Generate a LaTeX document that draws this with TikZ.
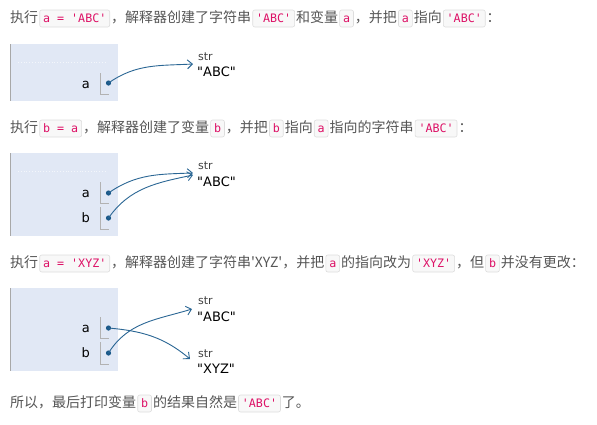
\documentclass[tikz,border=0pt]{standalone}
\usepackage{fontspec}
\usetikzlibrary{arrows.meta}
\newfontfamily\cjk{Noto Sans CJK SC}[Ligatures=TeXOff]
\newfontfamily\monof{DejaVu Sans Mono}[Ligatures=TeXOff]
\newfontfamily\dvs{DejaVu Sans}[Ligatures=TeXOff]
\definecolor{txtgray}{HTML}{555555}
\definecolor{codered}{HTML}{DD1166}
\definecolor{codebg}{HTML}{F8F8F8}
\definecolor{codeborder}{HTML}{DDDDDD}
\definecolor{framebg}{HTML}{E1E8F5}
\definecolor{frameedge}{HTML}{A8A8A8}
\definecolor{arrowblue}{HTML}{2A6694}
\definecolor{dotblue}{HTML}{1C5A8A}
\tikzset{
  codebox/.style={draw=codeborder, fill=codebg, rounded corners=2pt, line width=0.6pt,
    inner xsep=3.4pt, inner ysep=3pt, text height=9pt, text depth=2pt,
    text=codered, font=\monof\fontsize{11.67pt}{13pt}\selectfont},
  textline/.style={anchor=base west, inner sep=0pt, text=txtgray,
    font=\cjk\fontsize{14pt}{16pt}\selectfont},
  framebox/.style={fill=framebg, draw=none},
  frameleft/.style={draw=frameedge, line width=1pt},
  bracket/.style={draw=gray!60, line width=0.8pt},
  varlabel/.style={anchor=east, inner sep=0pt, font=\dvs\fontsize{13pt}{15pt}\selectfont, text=black},
  ptrdot/.style={circle, fill=dotblue, inner sep=0pt, minimum size=5.2pt},
  ptr/.style={draw=arrowblue, line width=0.9pt, -{Straight Barb[length=5pt,width=9pt,line width=0.9pt]}},
  typelabel/.style={anchor=west, inner sep=0pt, font=\dvs\fontsize{11pt}{13pt}\selectfont, text=black!75},
  vallabel/.style={anchor=west, inner sep=0pt, font=\dvs\fontsize{13pt}{15pt}\selectfont, text=black},
  dotrule/.style={draw=white!60!framebg, dotted, line width=0.8pt}
}
\newcommand\cd[1]{\hspace{1.2pt}\tikz[baseline=(cb.base)]\node(cb)[codebox]{#1};\hspace{1.2pt}}
\begin{document}
\begin{tikzpicture}[x=1pt,y=-1pt]
\useasboundingbox (0,0) rectangle (597,424);
% ---------- line 1
\node[textline] (t1) at (10,22) {执行\cd{a = 'ABC'}，解释器创建了字符串\cd{'ABC'}和变量\cd{a}，并把\cd{a}指向\cd{'ABC'}：};
% frame 1
\fill[framebox] (10,44) rectangle (118,101);
\draw[frameleft] (10,44) -- (10,101);
\draw[dotrule] (18,62) -- (105,62);
\node[varlabel] (a1) at (90,84.5) {a};
\draw[bracket] (100.5,73) -- (100.5,94.5) -- (109,94.5);
\node[ptrdot] (da1) at (108.5,83) {};
\node[typelabel] (s1) at (198,57) {str};
\node[vallabel] (v1) at (197,72) {"ABC"};
\coordinate (e1) at (193,64);
\draw[ptr] (da1.center) to[out=35,in=183] (e1);
% ---------- line 2
\node[textline] (t2) at (10,132) {执行\cd{b = a}，解释器创建了变量\cd{b}，并把\cd{b}指向\cd{a}指向的字符串\cd{'ABC'}：};
% frame 2
\fill[framebox] (10,153) rectangle (118,236);
\draw[frameleft] (10,153) -- (10,236);
\draw[dotrule] (18,171) -- (105,171);
\node[varlabel] (a2) at (90,193.5) {a};
\node[varlabel] (b2) at (90,217.5) {b};
\draw[bracket] (100.5,182) -- (100.5,203.5) -- (109,203.5);
\draw[bracket] (100.5,207) -- (100.5,229) -- (109,229);
\node[ptrdot] (da2) at (108.5,193) {};
\node[ptrdot] (db2) at (108.5,218) {};
\node[typelabel] (s2) at (198,166) {str};
\node[vallabel] (v2) at (197,182) {"ABC"};
\coordinate (e2a) at (193,173);
\coordinate (e2b) at (193,175);
\draw[ptr] (da2.center) to[out=35,in=182] (e2a);
\draw[ptr] (db2.center) to[out=55,in=192] (e2b);
% ---------- line 3
\node[textline] (t3) at (10,267) {执行\cd{a = 'XYZ'}，解释器创建了字符串'XYZ'，并把\cd{a}的指向改为\cd{'XYZ'}，但\cd{b}并没有更改：};
% frame 3
\fill[framebox] (10,288) rectangle (118,371);
\draw[frameleft] (10,288) -- (10,371);
\node[varlabel] (a3) at (90,328.5) {a};
\node[varlabel] (b3) at (90,353) {b};
\draw[bracket] (100.5,317) -- (100.5,338.5) -- (109,338.5);
\draw[bracket] (100.5,342) -- (100.5,364) -- (109,364);
\node[ptrdot] (da3) at (108.5,328) {};
\node[ptrdot] (db3) at (108.5,353) {};
\node[typelabel] (s3a) at (198,301) {str};
\node[vallabel] (v3a) at (197,317) {"ABC"};
\node[typelabel] (s3b) at (198,354) {str};
\node[vallabel] (v3b) at (197,369) {"XYZ"};
\coordinate (e3a) at (192,309);
\coordinate (e3b) at (190,359);
\draw[ptr] (db3.center) to[out=58,in=197] (e3a);
\draw[ptr] (da3.center) to[out=-5,in=140] (e3b);
% ---------- line 4
\node[textline] (t4) at (10,407) {所以，最后打印变量\cd{b}的结果自然是\cd{'ABC'}了。};
\end{tikzpicture}
\end{document}
